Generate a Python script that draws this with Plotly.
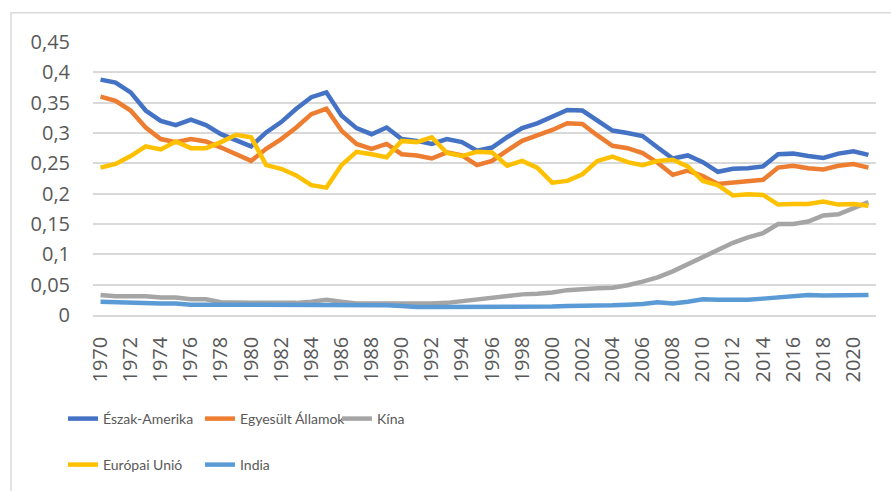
import plotly.graph_objects as go

years = list(range(1970, 2022))

eszak_amerika = [0.388, 0.383, 0.367, 0.337, 0.320, 0.313, 0.322, 0.313, 0.298, 0.288,
                 0.278, 0.301, 0.318, 0.340, 0.359, 0.367, 0.329, 0.308, 0.298, 0.309,
                 0.290, 0.287, 0.282, 0.290, 0.285, 0.271, 0.276, 0.293, 0.308, 0.316,
                 0.327, 0.338, 0.337, 0.320, 0.304, 0.300, 0.295, 0.276, 0.258, 0.263,
                 0.252, 0.236, 0.241, 0.242, 0.245, 0.265, 0.266, 0.262, 0.259, 0.266,
                 0.270, 0.264]
egyesult_allamok = [0.360, 0.353, 0.337, 0.309, 0.290, 0.285, 0.290, 0.286, 0.276, 0.265,
                    0.254, 0.274, 0.290, 0.309, 0.331, 0.340, 0.304, 0.282, 0.274, 0.282,
                    0.265, 0.263, 0.258, 0.268, 0.263, 0.247, 0.254, 0.271, 0.287, 0.296,
                    0.305, 0.316, 0.315, 0.296, 0.279, 0.275, 0.267, 0.251, 0.231, 0.238,
                    0.229, 0.216, 0.218, 0.220, 0.223, 0.243, 0.246, 0.242, 0.240, 0.246,
                    0.249, 0.243]
kina = [0.033, 0.031, 0.031, 0.031, 0.029, 0.029, 0.026, 0.026, 0.021, 0.020,
        0.020, 0.020, 0.020, 0.020, 0.022, 0.025, 0.022, 0.019, 0.019, 0.019,
        0.018, 0.018, 0.019, 0.020, 0.023, 0.026, 0.029, 0.032, 0.034, 0.035,
        0.037, 0.041, 0.043, 0.044, 0.045, 0.049, 0.055, 0.062, 0.072, 0.084,
        0.095, 0.108, 0.119, 0.128, 0.135, 0.150, 0.150, 0.154, 0.164, 0.166,
        0.176, 0.186]
europai_unio = [0.243, 0.249, 0.262, 0.278, 0.273, 0.286, 0.275, 0.275, 0.285, 0.297,
                0.293, 0.247, 0.241, 0.230, 0.214, 0.210, 0.247, 0.269, 0.265, 0.260,
                0.287, 0.285, 0.293, 0.267, 0.262, 0.269, 0.268, 0.246, 0.254, 0.243,
                0.218, 0.221, 0.232, 0.254, 0.261, 0.252, 0.247, 0.254, 0.256, 0.245,
                0.221, 0.214, 0.197, 0.199, 0.198, 0.182, 0.183, 0.183, 0.187, 0.182,
                0.183, 0.180]
india = [0.022, 0.021, 0.020, 0.019, 0.019, 0.019, 0.017, 0.017, 0.017, 0.017,
         0.017, 0.017, 0.017, 0.017, 0.017, 0.017, 0.017, 0.017, 0.016, 0.016,
         0.015, 0.013, 0.013, 0.013, 0.013, 0.013, 0.014, 0.014, 0.014, 0.014,
         0.014, 0.015, 0.015, 0.016, 0.016, 0.017, 0.018, 0.021, 0.019, 0.022,
         0.026, 0.025, 0.025, 0.025, 0.027, 0.029, 0.031, 0.033, 0.032, 0.032,
         0.032, 0.033]

y_tickvals = [0, 0.05, 0.1, 0.15, 0.2, 0.25, 0.3, 0.35, 0.4, 0.45]
y_ticktext = ["0", "0,05", "0,1", "0,15", "0,2", "0,25", "0,3", "0,35", "0,4", "0,45"]

series = [
    ("Észak-Amerika", eszak_amerika, "#4472C4", "legend"),
    ("Egyesült Államok", egyesult_allamok, "#ED7D31", "legend"),
    ("Kína", kina, "#A5A5A5", "legend"),
    ("Európai Unió", europai_unio, "#FFC000", "legend2"),
    ("India", india, "#5B9BD5", "legend2"),
]

fig = go.Figure()
for name, vals, color, lg in series:
    fig.add_trace(go.Scatter(x=years, y=vals, name=name, mode="lines",
                             line=dict(color=color, width=4.5), legend=lg))

W, H = 891, 491
ml, mr, mt, mb = 93, 15, 42, 176
pw = W - ml - mr
ph = H - mt - mb

def px_x(px):
    return (px - ml) / pw

def px_y(py):
    return (H - mb - py) / ph

legend_font = dict(family="Lato, sans-serif", size=14, color="#595959")

fig.update_layout(
    width=W, height=H,
    margin=dict(l=ml, r=mr, t=mt, b=mb, autoexpand=False),
    paper_bgcolor="white", plot_bgcolor="white",
    font=dict(family="Open Sans, sans-serif", color="#595959", size=20),
    legend=dict(orientation="h", x=px_x(63), xanchor="left", y=px_y(419), yanchor="middle",
                font=legend_font, entrywidth=92, entrywidthmode="pixels",
                bgcolor="rgba(0,0,0,0)"),
    legend2=dict(orientation="h", x=px_x(63), xanchor="left", y=px_y(465), yanchor="middle",
                 font=legend_font, entrywidth=92, entrywidthmode="pixels",
                 bgcolor="rgba(0,0,0,0)"),
    xaxis=dict(range=[1969.5, 2021.5], tickmode="linear", tick0=1970, dtick=2,
               tickangle=-90, showgrid=False, zeroline=False,
               showline=True, linecolor="#D9D9D9", linewidth=1.5,
               ticks="outside", ticklen=12, tickcolor="rgba(0,0,0,0)",
               tickfont=dict(family="Open Sans, sans-serif", size=20, color="#595959")),
    yaxis=dict(range=[0, 0.45], tickvals=y_tickvals, ticktext=y_ticktext,
               showgrid=True, gridcolor="#D9D9D9", gridwidth=1.5, zeroline=False,
               ticks="outside", ticklen=18, tickcolor="rgba(0,0,0,0)",
               tickfont=dict(family="Open Sans, sans-serif", size=20, color="#595959")),
    shapes=[dict(type="rect", xref="paper", yref="paper",
                 x0=px_x(11), x1=px_x(900), y0=px_y(500), y1=px_y(12.7),
                 line=dict(color="#D9D9D9", width=1.5), fillcolor="rgba(0,0,0,0)",
                 layer="below")],
)

fig.write_html("out.html", config={"displayModeBar": False},
               post_script="document.body.style.margin='0';document.body.style.padding='0';")
